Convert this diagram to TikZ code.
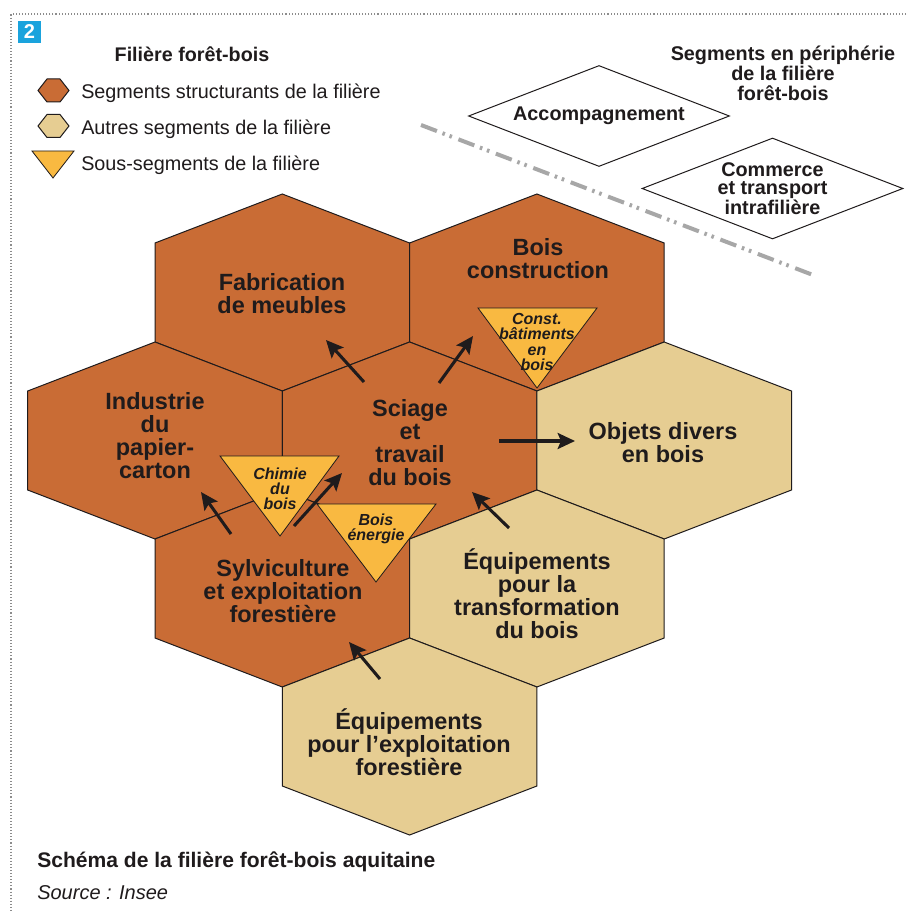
\documentclass[tikz,border=0pt]{standalone}
\usepackage{fontspec}
\setmainfont{Liberation Sans}
\usetikzlibrary{arrows.meta,shapes.geometric}
\definecolor{hexbrown}{HTML}{C96C35}
\definecolor{hexbeige}{HTML}{E6CD92}
\definecolor{triyellow}{HTML}{F9B941}
\definecolor{ink}{HTML}{1F1B1C}
\definecolor{badgeblue}{HTML}{1AA3DD}
\definecolor{dashgray}{HTML}{A7A7A7}
\definecolor{dotgray}{HTML}{8C8C8C}
\tikzset{
  hexcell/.pic={\path[pic actions] (0,-98.5) -- (127.3,-49.5) -- (127.3,49.5) -- (0,98.5) -- (-127.3,49.5) -- (-127.3,-49.5) -- cycle;},
  minihex/.pic={\path[pic actions] (-15.5,0) -- (-6.5,-11.5) -- (6.5,-11.5) -- (15.5,0) -- (6.5,11.5) -- (-6.5,11.5) -- cycle;},
  brownhexst/.style={fill=hexbrown,draw=ink,line width=0.75pt},
  beigehexst/.style={fill=hexbeige,draw=ink,line width=0.75pt},
  tristyle/.style={fill=triyellow,draw=ink,line width=0.6pt,line join=miter},
  hexlabel/.style={font=\fontsize{17.6pt}{17.3pt}\selectfont\bfseries,align=center,text=ink,inner sep=0pt},
  trilabel/.style={font=\fontsize{12pt}{11.3pt}\selectfont\bfseries\itshape,align=center,text=ink,inner sep=0pt},
  legtitle/.style={font=\fontsize{14.8pt}{15pt}\selectfont\bfseries,text=ink,inner sep=0pt},
  legtext/.style={font=\fontsize{14.85pt}{15pt}\selectfont,text=ink,inner sep=0pt},
  periphtitle/.style={font=\fontsize{14.85pt}{15pt}\selectfont\bfseries,align=center,text=ink,inner sep=0pt},
  periph/.style={diamond,draw=ink,fill=white,line width=0.75pt,inner sep=0pt,minimum width=195.75pt,minimum height=75.75pt,aspect=2.58,font=\fontsize{14.85pt}{13.6pt}\selectfont\bfseries,align=center,text=ink},
  flowarrow/.style={draw=ink,line width=2.3pt,-{Stealth[length=13pt,width=12pt,inset=2.5pt]}},
  sepline/.style={draw=dashgray,line width=3pt,dash pattern=on 12.75pt off 4.5pt on 1.9pt off 3.75pt on 1.9pt off 5.25pt},
  framedots/.style={draw=dotgray,line width=0.8pt,dash pattern=on 0.8pt off 1.5pt},
  badge/.style={fill=badgeblue,text=white,font=\fontsize{15pt}{15pt}\selectfont\bfseries,minimum width=17.25pt,minimum height=16.5pt,inner sep=0pt}
}
\begin{document}
\begin{tikzpicture}[x=0.75pt,y=-0.75pt]
\useasboundingbox (0,0) rectangle (906,913);
\fill[white] (0,0) rectangle (906,913);
% frame
\coordinate (bTL) at (11,14);
\coordinate (bTR) at (906,14);
\coordinate (bBL) at (11,913);
\draw[framedots] (bTR) -- (bTL) -- (bBL);
\node[badge] (num) at (29.5,32) {2};
% legend
\node[legtitle,anchor=base] (legt) at (192,62) {Filière forêt-bois};
\pic[brownhexst] at (53.5,90.5) {minihex};
\pic[beigehexst] at (53.5,126) {minihex};
\draw[tristyle] (32,151) -- (74,151) -- (53,178) -- cycle;
\node[legtext,anchor=base west] (leg1) at (81,99) {Segments structurants de la filière};
\node[legtext,anchor=base west] (leg2) at (81,135) {Autres segments de la filière};
\node[legtext,anchor=base west] (leg3) at (81,171) {Sous-segments de la filière};
% periphery
\node[periphtitle] (pt) at (783,73.5) {Segments en périphérie\\de la filière\\forêt-bois};
\coordinate (dl1) at (421,125);
\coordinate (dl2) at (813,275);
\draw[sepline] (dl1) -- (dl2);
\node[periph] (acc) at (599,116) {Accompagnement};
\node[periph] (comm) at (772.5,188.5) {Commerce\\et transport\\intrafilière};
% hexagons
\pic[brownhexst] at (282.3,292.5) {hexcell};
\pic[brownhexst] at (536.9,292.5) {hexcell};
\pic[brownhexst] at (155,440.5) {hexcell};
\pic[brownhexst] at (409.6,440.5) {hexcell};
\pic[beigehexst] at (664.2,440.5) {hexcell};
\pic[brownhexst] at (282.3,588.5) {hexcell};
\pic[beigehexst] at (536.9,588.5) {hexcell};
\pic[beigehexst] at (409.6,736.5) {hexcell};
% triangles
\draw[tristyle] (220,456) -- (339,456) -- (280,536) -- cycle;
\draw[tristyle] (317,504) -- (436,504) -- (376,582) -- cycle;
\draw[tristyle] (478,308) -- (597,308) -- (537,388) -- cycle;
% hex labels
\node[hexlabel] (fab) at (282,294) {Fabrication\\de meubles};
\node[hexlabel] (boisc) at (538,259) {Bois\\construction};
\node[hexlabel] (ind) at (155,436) {Industrie\\du\\papier-\\carton};
\node[hexlabel] (sci) at (410,443) {Sciage\\et\\travail\\du bois};
\node[hexlabel] (obj) at (663,443) {Objets divers\\en bois};
\node[hexlabel] (syl) at (283,591) {Sylviculture\\et exploitation\\forestière};
\node[hexlabel] (eqt) at (537,594) {Équipements\\pour la\\transformation\\du bois};
\node[hexlabel] (eqe) at (409,742) {Équipements\\pour l’exploitation\\forestière};
% triangle labels
\node[trilabel] (chim) at (280,489) {Chimie\\du\\bois};
\node[trilabel] (ener) at (376,529) {Bois\\énergie};
\node[trilabel] (const) at (537,342) {Const.\\bâtiments\\en\\bois};
% arrows
\coordinate (a1s) at (364,382); \coordinate (a1e) at (326,340);
\coordinate (a2s) at (439,383); \coordinate (a2e) at (473,336);
\coordinate (a3s) at (499,441); \coordinate (a3e) at (575,441);
\coordinate (a4s) at (509,528); \coordinate (a4e) at (472,492);
\coordinate (a5s) at (231,534); \coordinate (a5e) at (201,492);
\coordinate (a6s) at (294,526); \coordinate (a6e) at (342,473);
\coordinate (a7s) at (380,679); \coordinate (a7e) at (349,642);
\draw[flowarrow] (a1s) -- (a1e);
\draw[flowarrow] (a2s) -- (a2e);
\draw[flowarrow] (a3s) -- (a3e);
\draw[flowarrow] (a4s) -- (a4e);
\draw[flowarrow] (a5s) -- (a5e);
\draw[flowarrow] (a6s) -- (a6e);
\draw[flowarrow] (a7s) -- (a7e);
% caption
\node[anchor=base west,inner sep=0pt,text=ink,font=\fontsize{15.8pt}{18pt}\selectfont\bfseries] (cap) at (37,867) {Schéma de la filière forêt-bois aquitaine};
\node[anchor=base west,inner sep=0pt,text=ink,font=\fontsize{15pt}{18pt}\selectfont\itshape] (src) at (37,899) {Source : Insee};
\end{tikzpicture}
\end{document}
